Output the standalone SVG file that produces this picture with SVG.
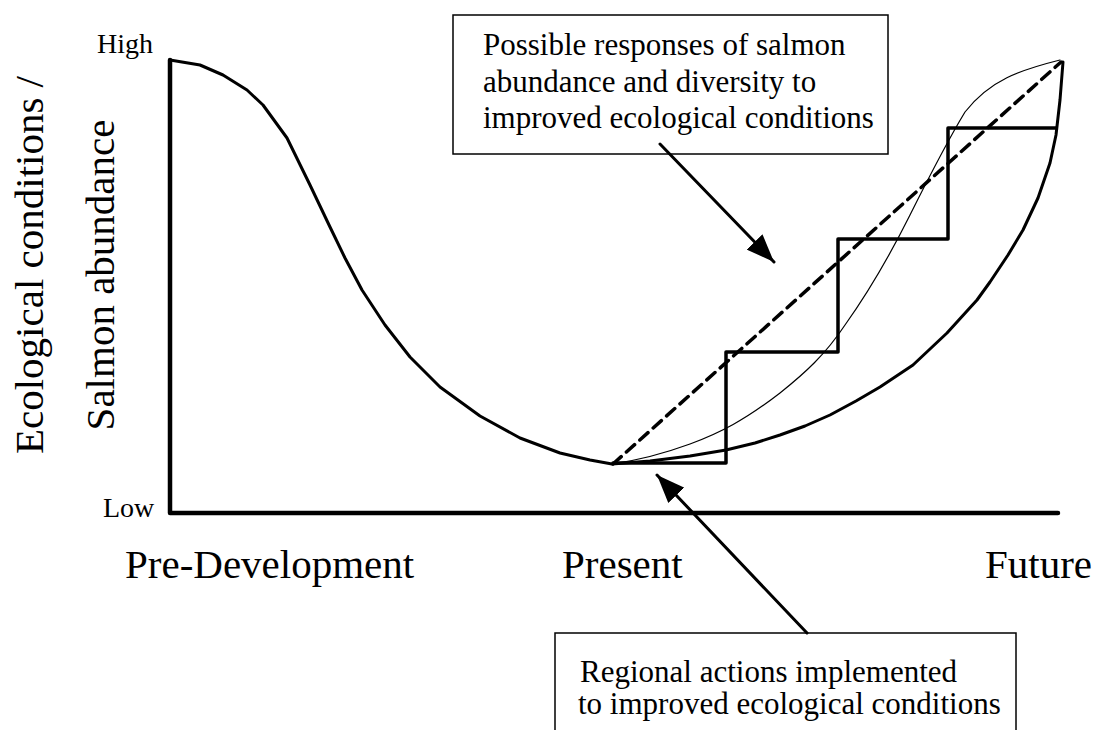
<svg xmlns="http://www.w3.org/2000/svg" width="1096" height="730" viewBox="0 0 1096 730" font-family="'Liberation Serif', 'Times New Roman', serif">
<style>
.big{font-size:41px}
.box{font-size:31px}
.tick{font-size:28px}
.ln{fill:none;stroke:#000;stroke-linejoin:round;stroke-linecap:round}
.cb{fill:#fff;stroke:#000;stroke-width:1.5}
</style>
<defs>
<marker id="head" viewBox="0 0 28 22" refX="28" refY="11" markerWidth="28" markerHeight="22" markerUnits="userSpaceOnUse" orient="auto">
<path d="M0,0 L28,11 L0,22 z" fill="#000"/>
</marker>
</defs>
<rect width="1096" height="730" fill="#fff"/>
<g id="axes">
<path class="ln" d="M170,60 L170,513 L1058,513" stroke-width="4.5"/>
<text class="tick" x="97" y="53" font-family="Liberation Serif, serif">High</text>
<text class="tick" x="103" y="517" font-family="Liberation Serif, serif">Low</text>
<text class="big" transform="translate(43,265) rotate(-90)" text-anchor="middle" font-family="Liberation Serif, serif">Ecological conditions /</text>
<text class="big" transform="translate(114,275) rotate(-90)" text-anchor="middle" font-family="Liberation Serif, serif">Salmon abundance</text>
<text class="big" x="125" y="578" font-family="Liberation Serif, serif">Pre-Development</text>
<text class="big" x="562" y="578" font-family="Liberation Serif, serif">Present</text>
<text class="big" x="985" y="578" font-family="Liberation Serif, serif">Future</text>
</g>
<g id="curves">
<path id="main-curve" class="ln" stroke-width="3" d="M170,60 L200,65 L223,75 L247,90 L263,105 L287,138 L310,185 L330,227 L345,258 L362,290 L385,325 L410,357 L440,387 L480,416 L520,438 L560,453 L590,460 L612,464 L650,461 L690,456 L726,450 L755,443 L780,435 L805,426 L830,415 L856,401 L880,387 L913,365 L947,333 L977,300 L990,282 L1008,255 L1023,230 L1038,198 L1050,163 L1056,135 L1060,100 L1063,62"/>
<path id="thin-curve" class="ln" stroke-width="1.2" d="M612,464 C640,460 660,455 690,444 C720,433 745,420 780,393 C805,373 825,355 845,325 C870,290 890,255 910,215 C930,175 945,145 965,112 C990,80 1020,70 1060,60"/>
<path id="dashed-line" class="ln" stroke-width="3.5" stroke-linecap="butt" stroke-dasharray="11,7" d="M613,464 L1061,62"/>
<path id="steps" class="ln" stroke-width="3.5" d="M613,463 L726,463 L726,352 L838,352 L838,239 L948,239 L948,128 L1056,128"/>
</g>
<g id="box-responses" font-family="Liberation Serif, serif">
<rect class="cb" x="453" y="15" width="435" height="139"/>
<text class="box" x="483" y="55">Possible responses of salmon</text>
<text class="box" x="483" y="92">abundance and diversity to</text>
<text class="box" x="483" y="128">improved ecological conditions</text>
</g>
<g id="box-actions" font-family="Liberation Serif, serif">
<rect class="cb" x="555" y="633" width="461" height="120"/>
<text class="box" x="580" y="682">Regional actions implemented</text>
<text class="box" x="578" y="714">to improved ecological conditions</text>
</g>
<g id="connectors">
<line class="ln" stroke-width="3" x1="660" y1="144" x2="774" y2="262" marker-end="url(#head)"/>
<line class="ln" stroke-width="3" x1="807" y1="633" x2="657" y2="475" marker-end="url(#head)"/>
</g>
</svg>
